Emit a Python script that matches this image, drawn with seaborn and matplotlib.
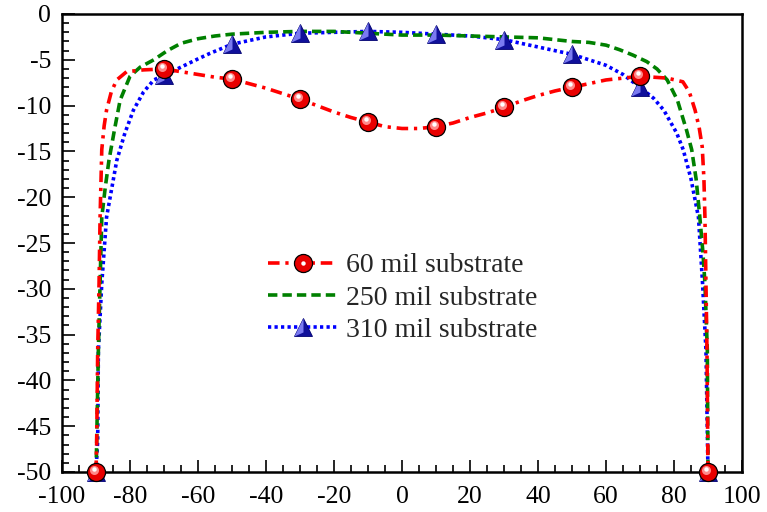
import pandas as pd
import matplotlib
matplotlib.use("Agg")
import matplotlib.pyplot as plt
import matplotlib.transforms as mtransforms
from matplotlib.lines import Line2D
from matplotlib.ticker import MultipleLocator
import seaborn as sns

# 60 mil substrate curve
red_x = [-90, -89.8, -89.5, -89.1, -88.8, -88.3, -87.6, -86.9, -85.5, -83.9, -81, -76, -70,
         -65, -60, -55, -50, -45, -40, -35, -30, -25, -20, -15, -10, -5, 0, 5, 10, 15, 20,
         25, 30, 35, 40, 45, 50, 55, 60, 65, 70, 74, 78, 82.6, 84.5, 86.2, 87.4, 88.3,
         88.8, 89.1, 89.4, 89.7, 90]
red_y = [-50, -46.8, -36.7, -29.4, -22.2, -14.8, -12.2, -10.5, -8.5, -7.2, -6.3, -6.1, -6.0,
         -6.3, -6.6, -6.9, -7.1, -7.6, -8.1, -8.7, -9.3, -10.0, -10.7, -11.3, -11.8, -12.3,
         -12.5, -12.5, -12.3, -11.9, -11.3, -10.8, -10.2, -9.5, -8.9, -8.4, -8.0, -7.6,
         -7.2, -7.0, -6.8, -6.9, -7.0, -7.4, -8.5, -10.5, -12.4, -14.5, -18, -22.2, -29.4,
         -36.7, -50]

# 250 mil substrate curve
green_x = [-90, -89.8, -89.3, -88.8, -88.3, -87.3, -86.2, -84.5, -82.9, -80, -77, -73, -69,
           -65, -60, -55, -50, -45, -40, -30, -20, -10, 0, 10, 20, 30, 40, 45, 50, 55, 60,
           64, 68, 72, 75, 78, 81, 83.7, 85.2, 86.5, 87.6, 88.5, 89.1, 89.8, 90]
green_y = [-50, -46.8, -36.7, -29.4, -22.2, -19, -16, -12.5, -9.4, -6.8, -5.8, -5.0, -4.0,
           -3.2, -2.7, -2.4, -2.2, -2.1, -2.0, -1.9, -1.9, -2.1, -2.3, -2.3, -2.4, -2.5,
           -2.6, -2.8, -3.0, -3.1, -3.4, -3.9, -4.5, -5.2, -6.0, -7.2, -9.4, -12.7, -14.8,
           -18, -22.2, -26, -29.4, -36.7, -50]

# 310 mil substrate curve
blue_x = [-90, -89.5, -89.3, -88.3, -86.9, -83.9, -81.5, -79, -76, -73, -70, -65, -60,
          -56.5, -50, -45, -40, -35, -30, -20, -10, 0, 10, 20, 30, 35, 40, 45, 50, 55, 60,
          65, 70, 74, 77, 80.8, 82.7, 85, 87.2, 88.4, 89.4, 90]
blue_y = [-50, -46.5, -36.7, -29.4, -22.2, -16, -13, -10.5, -8.5, -7.2, -6.7, -5.8, -4.9,
          -4.3, -3.3, -2.9, -2.5, -2.3, -2.1, -2.0, -1.9, -2.0, -2.2, -2.4, -2.8, -3.2,
          -3.6, -4.0, -4.4, -5.0, -5.6, -6.6, -8.0, -9.2, -10.5, -13.0, -14.8, -18, -22.2,
          -29.4, -36.7, -50]

# marker positions
marker_x = [-90, -70, -50, -30, -10, 10, 30, 50, 70, 90]
red_marker_y = [-50, -6.0, -7.1, -9.3, -11.8, -12.3, -10.2, -8.0, -6.8, -50]
blue_marker_y = [-50, -6.7, -3.3, -2.1, -1.9, -2.2, -2.8, -4.4, -8.0, -50]

labels = ["60 mil substrate", "250 mil substrate", "310 mil substrate"]

sns.set_style("ticks")
plt.rcParams["font.family"] = ["Liberation Serif", "DejaVu Serif"]
plt.rcParams["axes.unicode_minus"] = False

fig = plt.figure(figsize=(7.67, 5.12), dpi=100)
ax = fig.add_axes([62 / 767, 1 - 472 / 512, 680 / 767, 458 / 512])

red_ls = (0, (3.2, 1.6, 0.9, 1.6))
green_ls = (0, (2.6, 1.4))
blue_ls = (0, (0.9, 0.9))
lw = 2.6

sns.lineplot(x=blue_x, y=blue_y, ax=ax, color="#0000ff", lw=lw, linestyle=blue_ls, zorder=2)
sns.lineplot(x=green_x, y=green_y, ax=ax, color="#008000", lw=lw, linestyle=green_ls, zorder=3)
sns.lineplot(x=red_x, y=red_y, ax=ax, color="#ff0000", lw=lw, linestyle=red_ls, zorder=4)

ms = 13

# blue pyramid markers: dark base with light left face
tri_left = [(0, 1), (-1, -1), (0, -0.55)]
ax.plot(marker_x, blue_marker_y, ls="none", marker="^", ms=ms, mfc="#10109a",
        mec="#000070", mew=0.6, zorder=5, clip_on=False)
ax.plot(marker_x, blue_marker_y, ls="none", marker=tri_left, ms=ms, mfc="#7a7af0",
        mec="none", zorder=5.1, clip_on=False)

# red sphere markers with a highlight
sns.scatterplot(x=marker_x, y=red_marker_y, ax=ax, s=ms ** 2, color="#e80000",
                edgecolor="black", linewidth=0.9, zorder=6, clip_on=False)
hl1 = mtransforms.offset_copy(ax.transData, fig=fig, x=-1.2, y=1.4, units="points")
hl2 = mtransforms.offset_copy(ax.transData, fig=fig, x=-1.8, y=2.2, units="points")
ax.plot(marker_x, red_marker_y, ls="none", marker="o", ms=6.5, mfc="#ff8a8a", mec="none",
        transform=hl1, zorder=6.1, clip_on=False)
ax.plot(marker_x, red_marker_y, ls="none", marker="o", ms=3.2, mfc="white", mec="none",
        transform=hl2, zorder=6.2, clip_on=False)

ax.set_xlim(-100, 100)
ax.set_ylim(-50, 0)
ax.set_xticks(range(-100, 101, 20))
ax.set_yticks(range(-50, 1, 5))
ax.xaxis.set_minor_locator(MultipleLocator(5))
ax.yaxis.set_minor_locator(MultipleLocator(1))
ax.tick_params(which="both", direction="in", top=False, right=False, width=1.2,
               labelsize=18.5, colors="black")
ax.tick_params(axis="x", which="both", pad=10)
ax.tick_params(axis="y", which="both", pad=8)
ax.tick_params(which="major", length=9)
ax.tick_params(which="minor", length=5)
for sp in ax.spines.values():
    sp.set_linewidth(1.8)
    sp.set_color("black")
ax.set_xlabel("")
ax.set_ylabel("")

# legend handles
h_red = (Line2D([], [], color="#ff0000", lw=lw, linestyle=red_ls),
         Line2D([], [], ls="none", marker="o", ms=ms, mfc="#e80000", mec="black", mew=0.9),
         Line2D([], [], ls="none", marker="o", ms=3.2, mfc="white", mec="none"))
h_green = Line2D([], [], color="#008000", lw=lw, linestyle=green_ls)
h_blue = (Line2D([], [], color="#0000ff", lw=lw, linestyle=blue_ls),
          Line2D([], [], ls="none", marker="^", ms=ms, mfc="#10109a", mec="#000070", mew=0.6),
          Line2D([], [], ls="none", marker=tri_left, ms=ms, mfc="#7a7af0", mec="none"))
ax.legend([h_red, h_green, h_blue], labels, loc="center left",
          bbox_to_anchor=(0.303, 0.38), frameon=False, fontsize=20, handlelength=2.5,
          handletextpad=0.3, labelspacing=0.25, borderpad=0, borderaxespad=0)

fig.savefig("out.png", dpi=100)
